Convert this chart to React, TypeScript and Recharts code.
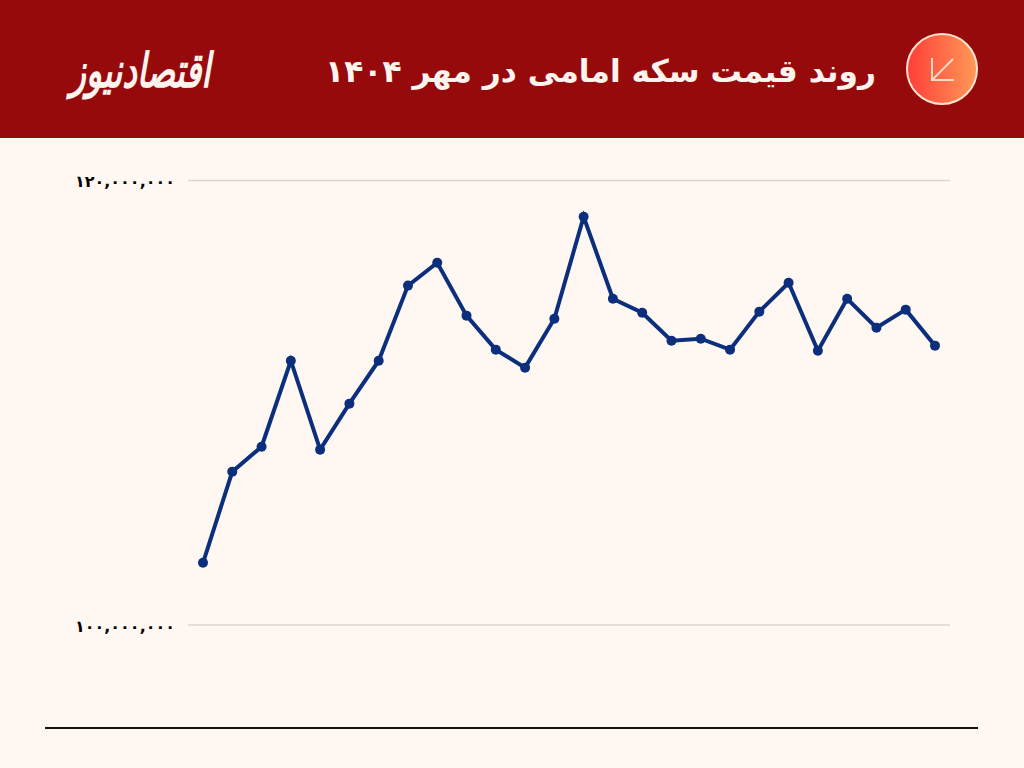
import { CartesianGrid, Line, LineChart, XAxis, YAxis } from "recharts";

const days = [
  "1", "2", "3", "4", "5", "6", "7", "8", "9", "10", "11", "12", "13",
  "14", "15", "16", "17", "18", "19", "20", "21", "22", "23", "24", "25", "26",
];
const prices = [
  102800000, 106900000, 108020000, 111890000, 107890000, 109960000, 111890000,
  115270000, 116300000, 113920000, 112390000, 111580000, 113780000, 118370000,
  114680000, 114050000, 112790000, 112880000, 112390000, 114100000, 115400000,
  112340000, 114680000, 113380000, 114190000, 112570000,
];
const yTicks = [100000000, 120000000];
const title = "روند قیمت سکه امامی در مهر ۱۴۰۴";
const brand = "اقتصادنیوز";

const chartData = days.map((day, i) => ({ day, price: prices[i] }));

const toPersian = (n: number) =>
  n.toLocaleString("en-US").replace(/\d/g, (d) => "۰۱۲۳۴۵۶۷۸۹"[Number(d)]);

const ArrowBadge = () => (
  <svg width={74} height={74} style={{ position: "absolute", left: 905, top: 32 }}>
    <defs>
      <linearGradient id="badge" x1="0" y1="0" x2="1" y2="0">
        <stop offset="0%" stopColor="#ff3d38" />
        <stop offset="100%" stopColor="#ff9a58" />
      </linearGradient>
    </defs>
    <circle cx={37} cy={37} r={35} fill="url(#badge)" stroke="#ffe4d0" strokeWidth={2} />
    <path d="M27 26 V48 H49 M27 48 L48 27" fill="none" stroke="#ffd9c8" strokeWidth={2} />
  </svg>
);

export default function App() {
  return (
    <div
      style={{
        position: "absolute",
        left: 0,
        top: 0,
        width: 1024,
        height: 768,
        overflow: "hidden",
        background: "#fff8f2",
      }}
    >
      <div style={{ position: "absolute", left: 0, top: 0, width: 1024, height: 138, background: "#960a0c" }} />
      <div
        dir="rtl"
        style={{
          position: "absolute",
          right: 148,
          top: 46,
          color: "#fff3ee",
          fontFamily: "'DejaVu Sans'",
          fontWeight: "bold",
          fontSize: 31.3,
          lineHeight: "50px",
          whiteSpace: "nowrap",
        }}
      >
        {title}
      </div>
      <div
        dir="rtl"
        style={{
          position: "absolute",
          left: 70,
          top: 46,
          color: "#fff3ee",
          fontFamily: "'DejaVu Sans'",
          fontWeight: "bold",
          fontStyle: "italic",
          fontSize: 33,
          lineHeight: "50px",
          whiteSpace: "nowrap",
          transform: "scaleY(1.45)",
        }}
      >
        {brand}
      </div>
      <ArrowBadge />

      <div style={{ position: "absolute", left: 0, top: 0 }}>
        <LineChart
          width={1024}
          height={768}
          data={chartData}
          margin={{ top: 180.5, right: 74, bottom: 143, left: 0 }}
        >
          <CartesianGrid vertical={false} stroke="#ddd6d0" strokeWidth={1.5} />
          <XAxis dataKey="day" hide padding={{ left: 15, right: 15 }} />
          <YAxis
            width={188}
            domain={[100000000, 120000000]}
            ticks={yTicks}
            tickFormatter={toPersian}
            tickLine={false}
            axisLine={false}
            tickMargin={7}
            dy={1}
            tick={{ fill: "#000000", fontSize: 16, fontWeight: "bold", fontFamily: "'DejaVu Sans'" }}
          />
          <Line
            type="linear"
            dataKey="price"
            stroke="#0b2f7c"
            strokeWidth={4}
            dot={{ r: 5, fill: "#0b2f7c", stroke: "#0b2f7c", strokeWidth: 0 }}
            isAnimationActive={false}
          />
        </LineChart>
      </div>

      <div style={{ position: "absolute", left: 45, top: 727, width: 933, height: 2, background: "#111111" }} />
    </div>
  );
}
